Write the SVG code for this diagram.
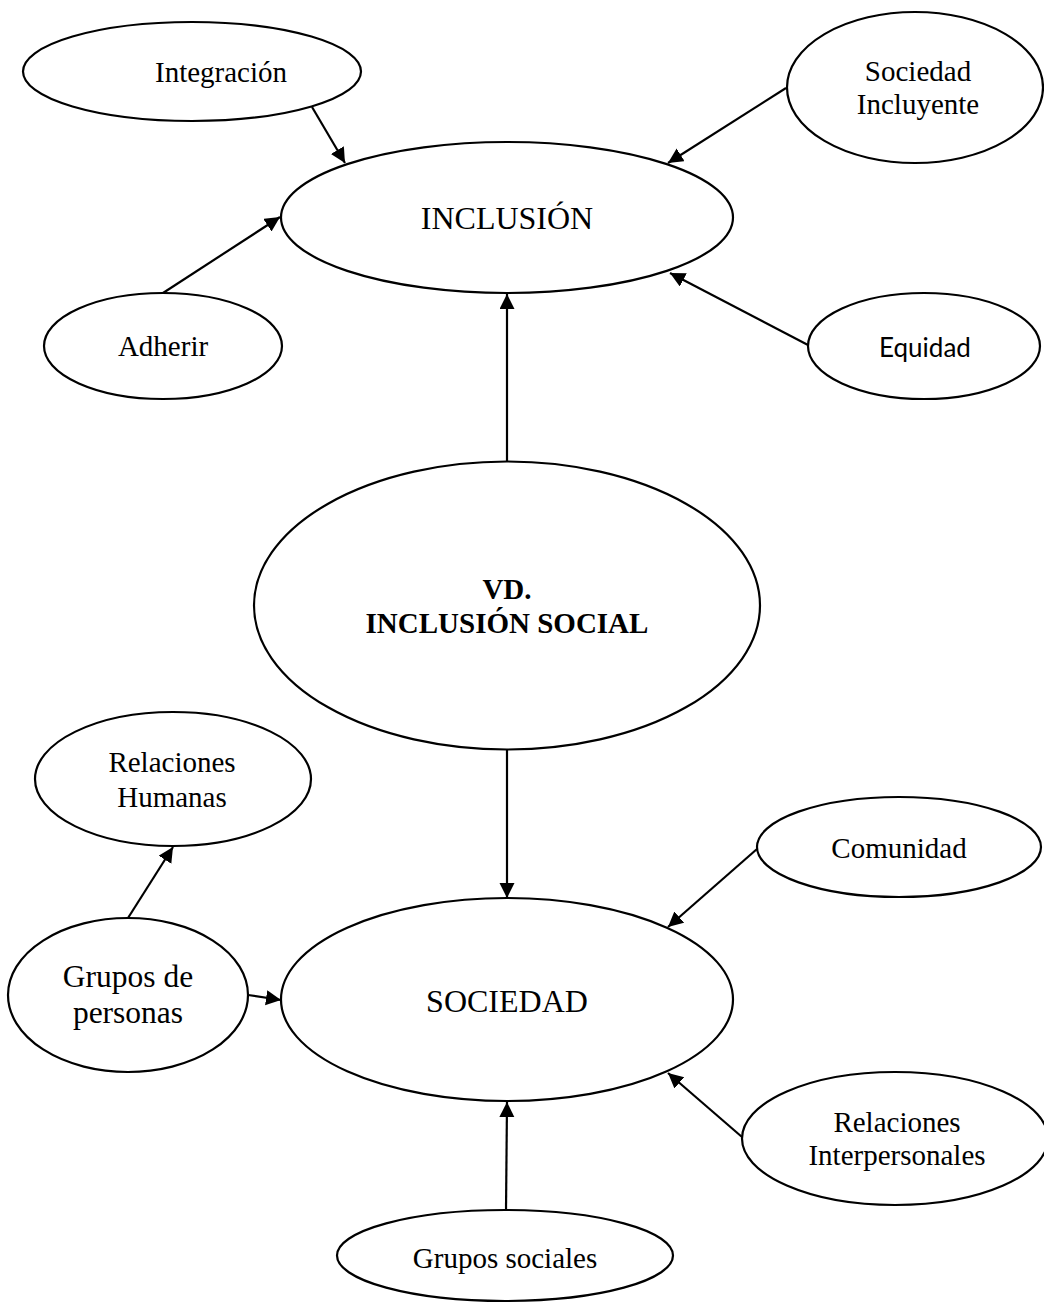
<svg xmlns="http://www.w3.org/2000/svg" width="1044" height="1303" viewBox="0 0 1044 1303">
<style>
  .node ellipse { fill: #ffffff; stroke: #000000; stroke-width: 2.2; }
  .t { font-family: "Liberation Serif", "Times New Roman", serif; font-size: 29px; fill: #000; text-anchor: middle; }
  .big { font-size: 32px; }
  .bold { font-weight: bold; }
  .sans { font-family: "Lato", "Liberation Sans", sans-serif; font-size: 26px; }
  .edges line { stroke: #000; stroke-width: 2.2; marker-end: url(#arrow); }
</style>
<defs>
  <marker id="arrow" markerUnits="userSpaceOnUse" markerWidth="16" markerHeight="16" refX="15" refY="7.5" orient="auto">
    <path d="M0,0 L15,7.5 L0,15 z" fill="#000"/>
  </marker>
</defs>
<rect width="1044" height="1303" fill="#ffffff"/>

<g class="edges" id="connectors">
  <line x1="312" y1="107" x2="345" y2="163"/>
  <line x1="786" y1="88" x2="668" y2="163"/>
  <line x1="163" y1="293" x2="280" y2="217"/>
  <line x1="808" y1="345" x2="670" y2="273"/>
  <line x1="507" y1="462" x2="507" y2="294"/>
  <line x1="507" y1="749" x2="507" y2="898"/>
  <line x1="128" y1="918" x2="173" y2="847"/>
  <line x1="248" y1="995" x2="281" y2="1000"/>
  <line x1="757" y1="849" x2="668" y2="927"/>
  <line x1="742" y1="1137" x2="668" y2="1073"/>
  <line x1="506" y1="1210" x2="507" y2="1102"/>
</g>

<g class="node" id="integracion">
  <ellipse cx="192" cy="71.5" rx="169" ry="49.5"/>
  <text class="t" x="221" y="82">Integración</text>
</g>
<g class="node" id="sociedad-incluyente">
  <ellipse cx="915" cy="87.5" rx="128" ry="75.5"/>
  <text class="t" x="918" y="81">Sociedad</text>
  <text class="t" x="918" y="114">Incluyente</text>
</g>
<g class="node" id="inclusion">
  <ellipse cx="507" cy="217.5" rx="226" ry="75.5"/>
  <text class="t big" x="507" y="229">INCLUSIÓN</text>
</g>
<g class="node" id="adherir">
  <ellipse cx="163" cy="346" rx="119" ry="53"/>
  <text class="t" x="163" y="356">Adherir</text>
</g>
<g class="node" id="equidad">
  <ellipse cx="924" cy="346" rx="116" ry="53"/>
  <text class="t sans" x="925" y="357">Equidad</text>
</g>
<g class="node" id="vd-inclusion-social">
  <ellipse cx="507" cy="605.5" rx="253" ry="144"/>
  <text class="t bold" x="507" y="599">VD.</text>
  <text class="t bold" x="507" y="633">INCLUSIÓN SOCIAL</text>
</g>
<g class="node" id="relaciones-humanas">
  <ellipse cx="173" cy="779" rx="138" ry="67"/>
  <text class="t" x="172" y="772">Relaciones</text>
  <text class="t" x="172" y="807">Humanas</text>
</g>
<g class="node" id="comunidad">
  <ellipse cx="899" cy="847" rx="142" ry="50"/>
  <text class="t" x="899" y="858">Comunidad</text>
</g>
<g class="node" id="grupos-de-personas">
  <ellipse cx="128" cy="995" rx="120" ry="77"/>
  <text class="t" style="font-size:31.5px" x="128" y="987">Grupos de</text>
  <text class="t" style="font-size:31.5px" x="128" y="1023">personas</text>
</g>
<g class="node" id="sociedad">
  <ellipse cx="507" cy="999.5" rx="226" ry="101.5"/>
  <text class="t big" x="507" y="1012">SOCIEDAD</text>
</g>
<g class="node" id="relaciones-interpersonales">
  <ellipse cx="895" cy="1138.5" rx="153" ry="66.5"/>
  <text class="t" x="897" y="1132">Relaciones</text>
  <text class="t" x="897" y="1165">Interpersonales</text>
</g>
<g class="node" id="grupos-sociales">
  <ellipse cx="505" cy="1255.5" rx="168" ry="45.5"/>
  <text class="t" x="505" y="1268">Grupos sociales</text>
</g>
</svg>
